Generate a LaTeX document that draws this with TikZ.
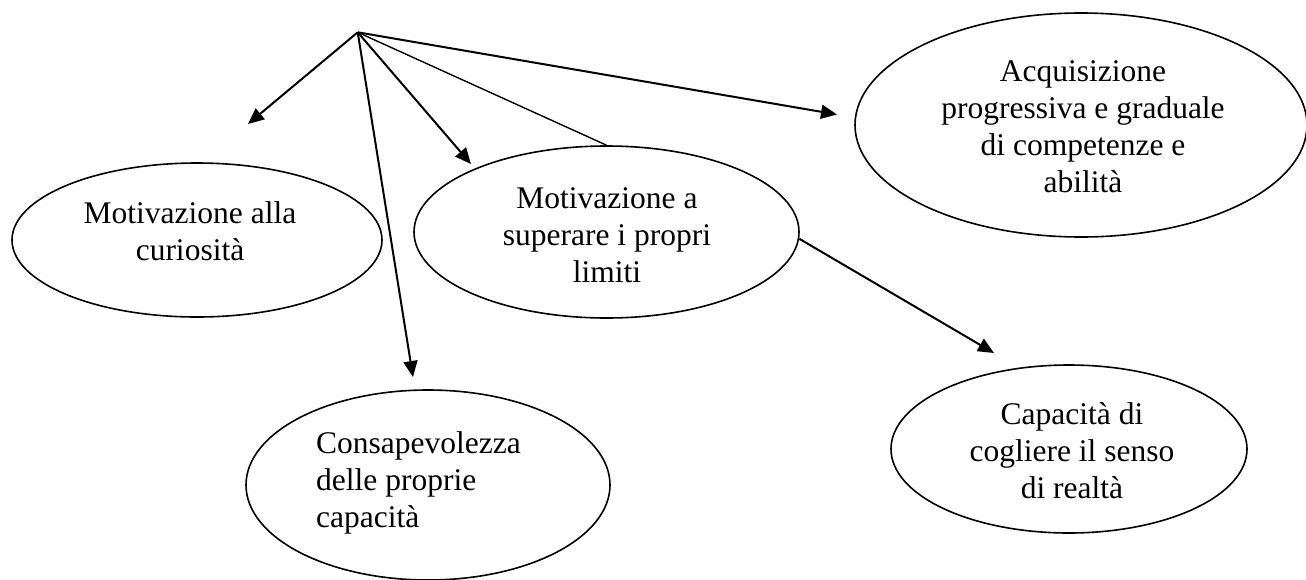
\documentclass[tikz,border=0pt]{standalone}
\usepackage{fontspec}
\setmainfont{Liberation Serif}
\usetikzlibrary{arrows.meta,shapes.geometric}

\tikzset{
  bubble/.style={ellipse, draw, line width=1.6pt, inner sep=0pt},
  caption/.style={font=\fontsize{31.5pt}{37pt}\selectfont, align=center, anchor=base, inner sep=0pt},
  pointer/.style={line width=2pt, -{Triangle[length=16pt,width=14pt]}},
  plainline/.style={line width=1.4pt}
}

\begin{document}
\begin{tikzpicture}[x=1pt, y=-1pt]
  \useasboundingbox (0,0) rectangle (1306,579);

  % outlines
  \node[bubble, minimum width=370pt, minimum height=154pt] (cur) at (197,240) {};
  \node[bubble, minimum width=385pt, minimum height=172pt] (lim) at (606.5,232) {};
  \node[bubble, minimum width=452pt, minimum height=224pt] (acq) at (1081,125) {};
  \node[bubble, minimum width=364pt, minimum height=190pt] (con) at (428,485) {};
  \node[bubble, minimum width=356pt, minimum height=168pt] (cap) at (1069,449) {};

  % texts (placed by the baseline of their last line)
  \node[caption] (curtext) at (190,260) {Motivazione alla\\curiosità};
  \node[caption] (limtext) at (607,282) {Motivazione a\\superare i propri\\limiti};
  \node[caption] (acqtext) at (1083,192) {Acquisizione\\progressiva e graduale\\di competenze e\\abilità};
  \node[caption, align=left, anchor=base west] (context) at (316,527) {Consapevolezza\\delle proprie\\capacità};
  \node[caption] (captext) at (1072,498) {Capacità di\\cogliere il senso\\di realtà};

  % connector end points
  \coordinate (hub) at (357.7,32.3);
  \coordinate (tipleft) at (248,124);
  \coordinate (tipcon) at (413,377);
  \coordinate (tiplim) at (471,164);
  \coordinate (tipacq) at (837,114.5);
  \coordinate (tipcap) at (994,353);

  % connectors
  \draw[pointer] (hub) -- (tipleft);
  \draw[pointer] (hub) -- (tipcon);
  \draw[pointer] (hub) -- (tiplim);
  \draw[plainline] (hub) -- (lim.north);
  \draw[pointer] (hub) -- (tipacq);
  \draw[pointer] (lim.-2) -- (tipcap);
\end{tikzpicture}
\end{document}
